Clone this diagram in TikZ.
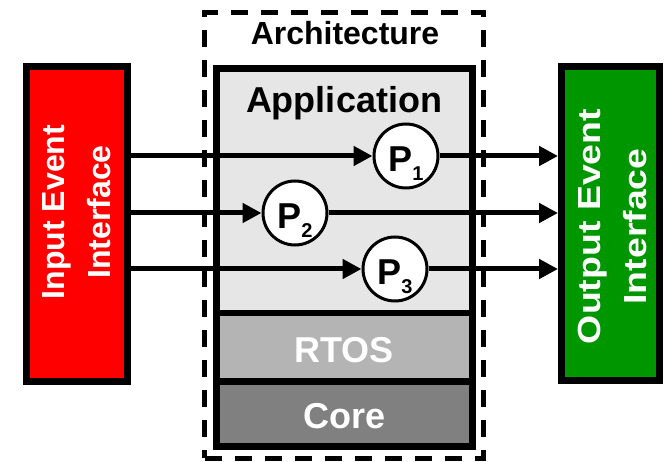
\documentclass[tikz,border=0pt]{standalone}
\usepackage{fontspec}
\setmainfont{Liberation Sans}
\usetikzlibrary{arrows.meta}
\definecolor{appgrey}{RGB}{230,230,230}
\definecolor{rtosgrey}{RGB}{180,180,180}
\definecolor{coregrey}{RGB}{128,128,128}
\definecolor{evred}{RGB}{255,0,0}
\definecolor{evgreen}{RGB}{0,150,0}
\newcommand\fsz[1]{\fontsize{#1}{#1}\selectfont}
\newcommand\psub[1]{\raisebox{-9pt}{\fsz{20}#1}}
\begin{document}
\begin{tikzpicture}[x=1pt,y=-1pt,
  evbox/.style={draw=black, line width=7pt, minimum width=101pt,
    minimum height=315pt, inner sep=0pt},
  evtext/.style={rotate=90, align=center, text=white, inner sep=0pt,
    font=\bfseries\fontsize{32}{46}\selectfont},
  layer/.style={draw=black, line width=6.5pt, minimum width=256pt, inner sep=0pt},
  layertext/.style={anchor=base, inner sep=0pt, font=\bfseries\fsz{36}},
  proc/.style={circle, draw=black, line width=3pt, fill=white,
    minimum size=64pt, inner sep=0pt, text height=31pt, text depth=0pt,
    font=\bfseries\fsz{36}},
  flow/.style={line width=5pt, -{Triangle[length=19pt,width=19pt]}},
  archbox/.style={draw=black, line width=5pt, dash pattern=on 17pt off 13pt,
    minimum width=279pt, minimum height=445pt, inner sep=0pt}]
\useasboundingbox (0,0) rectangle (664,462);

% architecture frame
\node[archbox] (arch) at (344,235.5) {};
\node[anchor=base, inner sep=0pt, font=\bfseries\fsz{32}] (archlbl) at (345,45) {Architecture};

% software / hardware layers
\node[layer, fill=appgrey, minimum height=244.5pt] (app) at (344.5,190.75) {};
\node[layer, fill=rtosgrey, minimum height=68.5pt] (rtos) at (344.5,347.25) {};
\node[layer, fill=coregrey, minimum height=65pt] (core) at (344.5,414) {};
\node[layertext] (applbl) at (344,113) {Application};
\node[layertext, text=white] (rtoslbl) at (344,362) {RTOS};
\node[layertext, text=white] (corelbl) at (344.5,428) {Core};

% event interfaces
\node[evbox, fill=evred] (in) at (77,224) {};
\node[evtext] (inlbl) at (76.5,212) {Input Event\\Interface};
\node[evbox, fill=evgreen, minimum width=98pt, minimum height=314pt] (out) at (610.5,223.5) {};
\node[evtext] (outlbl) at (612,226.5)
  {\scalebox{1.17}[1]{Output Event}\\\scalebox{1.17}[1]{Interface}};

% processes
\node[proc] (p1) at (406,156) {P\psub{1}};
\node[proc] (p2) at (295,213) {P\psub{2}};
\node[proc] (p3) at (395,269) {P\psub{3}};

% event flows
\draw[flow] (in.east |- p1) -- (p1);
\draw[flow] (p1) -- (p1 -| out.west);
\draw[flow] (in.east |- p2) -- (p2);
\draw[flow] (p2) -- (p2 -| out.west);
\draw[flow] (in.east |- p3) -- (p3);
\draw[flow] (p3) -- (p3 -| out.west);
\end{tikzpicture}
\end{document}
